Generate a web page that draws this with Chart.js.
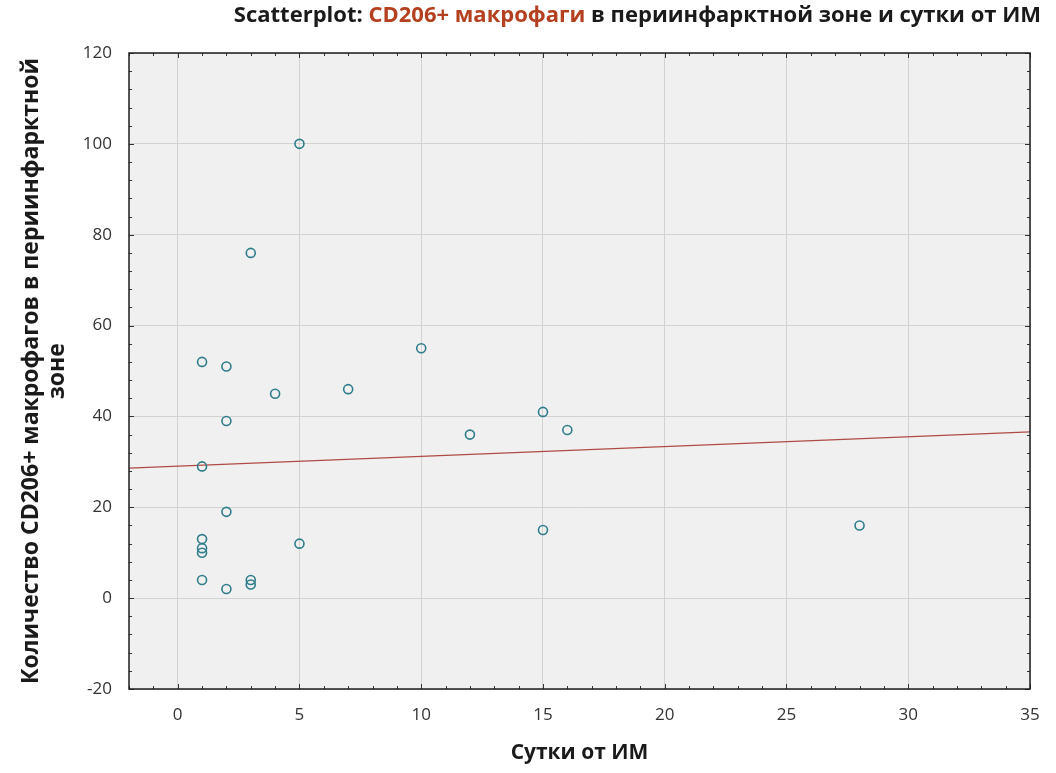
<!DOCTYPE html>
<html>
<head>
<meta charset="utf-8">
<script src="https://cdn.jsdelivr.net/npm/chart.js@4.4.1/dist/chart.umd.min.js"></script>
<style>
  body { margin: 0; background: #fff; }
  canvas { display: block; }
</style>
</head>
<body>
<canvas id="chart" width="1056" height="773"></canvas>
<script>
// days since MI vs. CD206+ macrophage count
const dayValues  = [5, 3, 1, 2, 4, 7, 10, 2, 1, 2, 1, 1, 1, 1, 2, 3, 3, 5, 12, 15, 16, 15, 28];
const cellCounts = [100, 76, 52, 51, 45, 46, 55, 39, 29, 19, 13, 11, 10, 4, 2, 4, 3, 12, 36, 41, 37, 15, 16];

// fitted line, read at the ends of the x range
const trendX = [-2, 35];
const trendY = [28.6, 36.6];

const xTicks = [0, 5, 10, 15, 20, 25, 30, 35];
const yTicks = [-20, 0, 20, 40, 60, 80, 100, 120];

const titleParts = [
  { text: 'Scatterplot: ', color: '#1a1a1a' },
  { text: 'CD206+ макрофаги', color: '#b5401f' },
  { text: ' в периинфарктной зоне и сутки от ИМ', color: '#1a1a1a' }
];

const points = dayValues.map((d, i) => ({ x: d, y: cellCounts[i] }));
const trend = trendX.map((d, i) => ({ x: d, y: trendY[i] }));

const FONT = '"Open Sans", "DejaVu Sans", sans-serif';

// grey plot area, full frame, small inner ticks, coloured title
const frame = {
  id: 'frame',
  beforeDraw(chart) {
    const { ctx, chartArea: a } = chart;
    ctx.save();
    ctx.fillStyle = '#f0f0f0';
    ctx.fillRect(a.left, a.top, a.right - a.left, a.bottom - a.top);
    ctx.restore();
  },
  afterDraw(chart) {
    const { ctx, chartArea: a, scales } = chart;
    const xs = scales.x, ys = scales.y;
    ctx.save();
    ctx.strokeStyle = '#333';
    ctx.lineWidth = 1;
    ctx.beginPath();
    for (let v = -2; v <= 35; v++) {
      const px = Math.round(xs.getPixelForValue(v)) + 0.5;
      const len = v % 5 === 0 ? 5 : 3;
      ctx.moveTo(px, a.bottom); ctx.lineTo(px, a.bottom - len);
      ctx.moveTo(px, a.top); ctx.lineTo(px, a.top + len);
    }
    for (let v = -20; v <= 120; v += 4) {
      const py = Math.round(ys.getPixelForValue(v)) + 0.5;
      const len = v % 20 === 0 ? 5 : 3;
      ctx.moveTo(a.left, py); ctx.lineTo(a.left + len, py);
      ctx.moveTo(a.right, py); ctx.lineTo(a.right - len, py);
    }
    ctx.stroke();

    ctx.strokeStyle = '#1e1e1e';
    ctx.lineWidth = 1.5;
    ctx.strokeRect(a.left, a.top, a.right - a.left, a.bottom - a.top);

    ctx.font = 'bold 22px ' + FONT;
    ctx.textBaseline = 'alphabetic';
    const total = titleParts.reduce((s, p) => s + ctx.measureText(p.text).width, 0);
    let x = 1041 - total;
    titleParts.forEach(p => {
      ctx.fillStyle = p.color;
      ctx.fillText(p.text, x, 22);
      x += ctx.measureText(p.text).width;
    });
    ctx.restore();
  }
};

new Chart(document.getElementById('chart'), {
  type: 'scatter',
  data: {
    datasets: [{
      data: points,
      pointStyle: 'circle',
      pointRadius: 4.5,
      pointBorderWidth: 1.6,
      pointBorderColor: '#2f7d8c',
      pointBackgroundColor: 'rgba(0,0,0,0)',
      order: 1
    }, {
      data: trend,
      showLine: true,
      pointRadius: 0,
      borderColor: '#b04a44',
      borderWidth: 1.3,
      order: 2
    }]
  },
  options: {
    responsive: false,
    animation: false,
    layout: { padding: { top: 53, right: 26, left: 0, bottom: 0 } },
    plugins: {
      legend: { display: false },
      tooltip: { enabled: false }
    },
    scales: {
      x: {
        type: 'linear',
        min: -2,
        max: 35,
        afterBuildTicks: s => { s.ticks = xTicks.map(v => ({ value: v })); },
        afterFit: s => { s.height = 84; },
        grid: { color: '#d2d2d2', drawTicks: false },
        border: { display: false },
        ticks: { padding: 16, color: '#333', font: { family: FONT, size: 17 } },
        title: {
          display: true,
          text: 'Сутки от ИМ',
          color: '#1a1a1a',
          padding: { top: 0, bottom: 7 },
          font: { family: FONT, size: 21, weight: 'bold', lineHeight: 1.2 }
        }
      },
      y: {
        min: -20,
        max: 120,
        afterBuildTicks: s => { s.ticks = yTicks.map(v => ({ value: v })); },
        afterFit: s => { s.width = 129; },
        grid: { color: '#d2d2d2', drawTicks: false },
        border: { display: false },
        ticks: { padding: 17, color: '#333', font: { family: FONT, size: 17 } },
        title: {
          display: true,
          text: ['Количество CD206+ макрофагов в периинфарктной', 'зоне'],
          color: '#1a1a1a',
          padding: { top: 19, bottom: 0 },
          font: { family: FONT, size: 23, weight: 'bold', lineHeight: 1.12 }
        }
      }
    }
  },
  plugins: [frame]
});
</script>
</body>
</html>
